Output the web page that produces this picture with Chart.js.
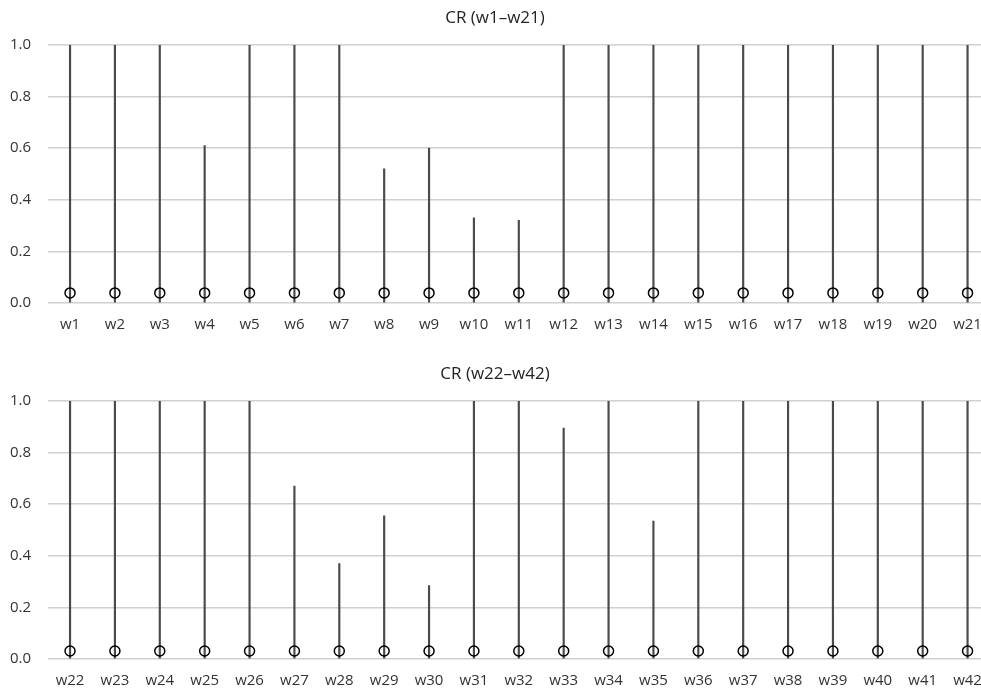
<!DOCTYPE html>
<html>
<head>
<meta charset="utf-8">
<script src="https://cdn.jsdelivr.net/npm/chart.js@4.4.1/dist/chart.umd.min.js"></script>
<style>
  html, body { margin: 0; padding: 0; background: #fff; overflow: hidden; width: 981px; height: 689px; }
  .panel { position: absolute; left: 0; width: 1004px; height: 333px; }
</style>
</head>
<body>
<div class="panel" style="top:0px"><canvas id="chart1" width="1004" height="333"></canvas></div>
<div class="panel" style="top:356px"><canvas id="chart2" width="1004" height="333"></canvas></div>
<script>
// categories
const weeks1 = ['w1','w2','w3','w4','w5','w6','w7','w8','w9','w10','w11','w12','w13','w14','w15','w16','w17','w18','w19','w20','w21'];
const weeks2 = ['w22','w23','w24','w25','w26','w27','w28','w29','w30','w31','w32','w33','w34','w35','w36','w37','w38','w39','w40','w41','w42'];

// CR values (top of each stem)
const cr1 = [1, 1, 1, 0.61, 1, 1, 1, 0.52, 0.60, 0.33, 0.32, 1, 1, 1, 1, 1, 1, 1, 1, 1, 1];
const cr2 = [1, 1, 1, 1, 1, 0.67, 0.37, 0.555, 0.285, 1, 1, 0.895, 1, 0.535, 1, 1, 1, 1, 1, 1, 1];

// circle markers near the bottom
const low1 = [0.039, 0.039, 0.039, 0.039, 0.039, 0.039, 0.039, 0.039, 0.039, 0.039, 0.039, 0.039, 0.039, 0.039, 0.039, 0.039, 0.039, 0.039, 0.039, 0.039, 0.039];
const low2 = [0.031, 0.031, 0.031, 0.031, 0.031, 0.031, 0.031, 0.031, 0.031, 0.031, 0.031, 0.031, 0.031, 0.031, 0.031, 0.031, 0.031, 0.031, 0.031, 0.031, 0.031];

const yTicks = [0, 0.2, 0.4, 0.6, 0.8, 1.0];

const fontFamily = '"Open Sans", "Noto Sans", sans-serif';
const textColor = '#333333';

function makeChart(id, title, labels, values, lows) {
  const ctx = document.getElementById(id).getContext('2d');
  return new Chart(ctx, {
    data: {
      labels: labels,
      datasets: [
        {
          type: 'line',
          label: 'low',
          data: lows,
          showLine: false,
          pointStyle: 'circle',
          pointRadius: 5,
          pointBorderWidth: 1.5,
          pointBorderColor: '#000000',
          pointBackgroundColor: 'rgba(0,0,0,0)',
          order: 0
        },
        {
          type: 'bar',
          label: 'CR',
          data: values.map(v => [0, v]),
          backgroundColor: '#4a4a4a',
          barThickness: 1.5,
          order: 1
        }
      ]
    },
    options: {
      responsive: false,
      animation: false,
      devicePixelRatio: 1,
      layout: { padding: { left: 0, right: 14, top: 0, bottom: 0 } },
      plugins: {
        legend: { display: false },
        tooltip: { enabled: false },
        title: {
          display: true,
          text: title,
          color: '#222222',
          font: { family: fontFamily, size: 17, weight: 'normal', lineHeight: 1.2 },
          padding: { top: 8, bottom: 16.6 }
        }
      },
      scales: {
        x: {
          grid: { display: false, drawTicks: false },
          border: { display: false },
          ticks: {
            color: textColor,
            padding: 13,
            maxRotation: 0,
            autoSkip: false,
            font: { family: fontFamily, size: 15 }
          },
          afterFit: s => { s.height = 30; }
        },
        y: {
          min: 0,
          max: 1,
          afterBuildTicks: s => { s.ticks = yTicks.map(v => ({ value: v })); },
          grid: { color: '#d0d0d0', lineWidth: 1.5, drawTicks: false },
          border: { display: false },
          ticks: {
            color: textColor,
            padding: 16.6,
            font: { family: fontFamily, size: 15 },
            callback: v => v.toFixed(1)
          },
          afterFit: s => { s.width = 47.6; }
        }
      }
    }
  });
}

makeChart('chart1', 'CR (w1–w21)', weeks1, cr1, low1);
makeChart('chart2', 'CR (w22–w42)', weeks2, cr2, low2);
</script>
</body>
</html>
